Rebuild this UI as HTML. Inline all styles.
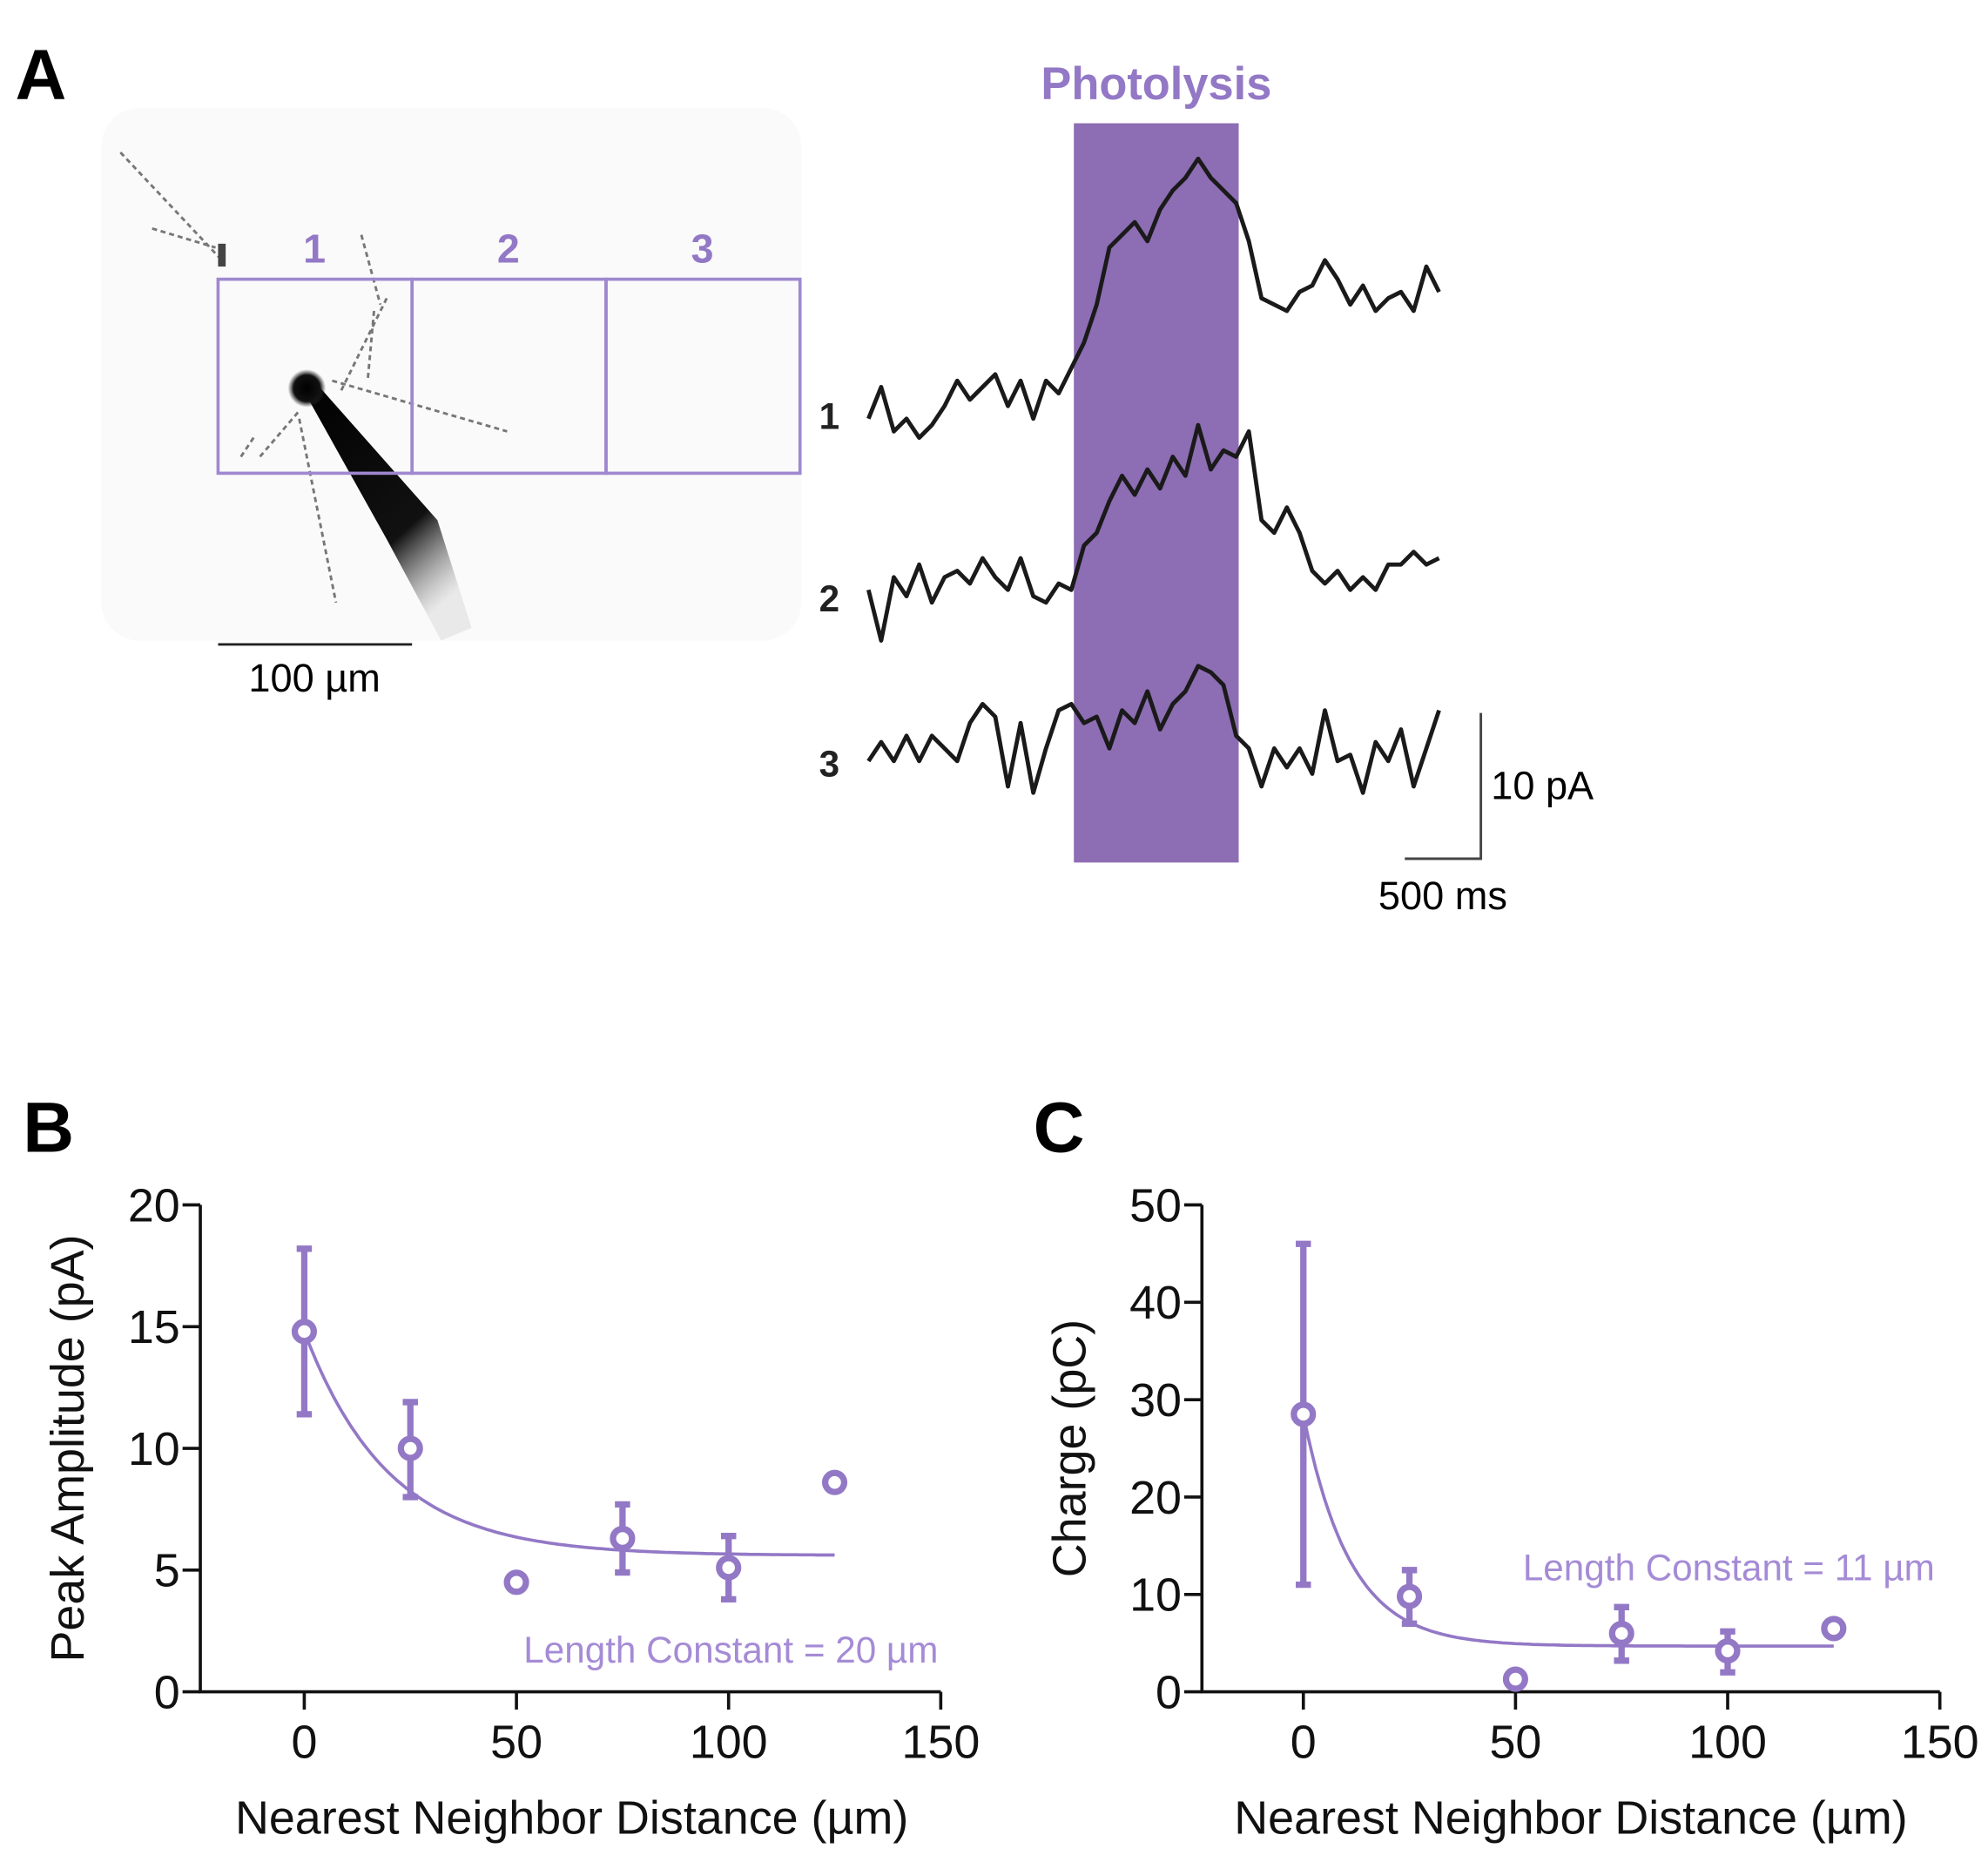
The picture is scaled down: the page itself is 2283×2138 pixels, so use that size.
<!DOCTYPE html>
<html><head><meta charset="utf-8"><style>
html,body{margin:0;padding:0;background:#fff;}
svg{display:block;font-family:"Liberation Sans",Arial,sans-serif;}
</style></head><body>
<svg id="fig" width="2283" height="2138" viewBox="0 0 1568 1468" xmlns="http://www.w3.org/2000/svg">
<defs>
<radialGradient id="soma" cx="0.5" cy="0.5" r="0.5"><stop offset="0" stop-color="#000"/><stop offset="0.7" stop-color="#111"/><stop offset="1" stop-color="#333" stop-opacity="0"/></radialGradient>
<linearGradient id="pip" x1="0" y1="0" x2="0.6" y2="1"><stop offset="0" stop-color="#000"/><stop offset="0.7" stop-color="#111"/><stop offset="1" stop-color="#888" stop-opacity="0.15"/></linearGradient>
</defs>
<rect width="1568" height="1468" fill="#fff"/>
<text x="12" y="78" font-size="56" font-weight="bold">A</text>
<g>
<rect x="80" y="85" width="552" height="420" rx="30" fill="#fafafa"/>
<path d="M95 120 L175 205 M120 180 L170 195 M285 185 L300 240 M305 235 L268 310 M295 245 L290 300 M262 300 L400 340 M235 325 L205 360 M236 330 L265 475 M200 345 L190 360" stroke="#777" stroke-width="2" fill="none" stroke-dasharray="4 3"/>
<rect x="172" y="192" width="6" height="18" fill="#444"/>
<polygon points="234,298 252,305 345,410 372,495 348,505 305,425" fill="url(#pip)"/>
<circle cx="242" cy="306" r="15" fill="url(#soma)"/>
</g>
<g stroke="#9f88d0" stroke-width="2.5" fill="none">
<rect x="172" y="220" width="153" height="153"/>
<rect x="325" y="220" width="153" height="153"/>
<rect x="478" y="220" width="153" height="153"/>
</g>
<g fill="#9378c6" font-size="32" font-weight="bold" text-anchor="middle">
<text x="248" y="207">1</text>
<text x="401" y="207">2</text>
<text x="554" y="207">3</text>
</g>
<line x1="172" y1="508" x2="325" y2="508" stroke="#222" stroke-width="2"/>
<text x="248" y="545" font-size="31" text-anchor="middle">100 µm</text>
<rect x="847" y="97" width="130" height="583" fill="#8d6db3"/>
<text x="912" y="78" font-size="36" font-weight="bold" fill="#9378c6" text-anchor="middle">Photolysis</text>
<g font-size="29" font-weight="bold" fill="#222">
<text x="646" y="338">1</text>
<text x="646" y="482">2</text>
<text x="646" y="612">3</text>
</g>
<g id="traces"></g>
<path d="M1168 562 L1168 677 L1108 677" stroke="#444" stroke-width="2" fill="none"/>
<text x="1176" y="630" font-size="31">10 pA</text>
<text x="1138" y="717" font-size="31" text-anchor="middle">500 ms</text>
<text x="18" y="908" font-size="56" font-weight="bold">B</text>
<text x="815" y="908" font-size="56" font-weight="bold">C</text>
<g id="chartB"></g>
<g id="chartC"></g>
</svg>
<script>
const NS='http://www.w3.org/2000/svg';
const trace1=[330,305,340,330,345,335,320,300,315,305,295,320,300,330,300,310,290,270,240,195,185,175,190,165,150,140,125,140,150,160,190,235,240,245,230,225,205,220,240,225,245,235,230,245,210,230];
const trace2=[465,505,455,470,445,475,455,450,460,440,455,465,440,470,475,460,465,430,420,395,375,390,370,385,360,375,335,370,355,360,340,410,420,400,420,450,460,450,465,455,465,445,445,435,445,440];
const trace3=[600,585,600,580,600,580,590,600,570,555,565,620,570,625,590,560,555,570,565,590,560,570,545,575,555,545,525,530,540,580,590,620,590,605,590,610,560,600,595,625,585,600,575,620,590,560];
const xCats=[0,25,50,75,100,125];
const bMean=[14.8,10.0,4.5,6.3,5.1,8.6];
const bLo=[11.4,8.0,null,4.9,3.8,null];
const bHi=[18.2,11.9,null,7.7,6.4,null];
const bFitPlateau=[5.6], bFitSpan=[9.2], bFitTau=[20];
const bYTicks=[0,5,10,15,20];
const cMean=[28.5,9.8,1.3,6.0,4.2,6.5];
const cLo=[11,7.0,null,3.2,2.0,null];
const cHi=[46,12.5,null,8.7,6.2,null];
const cFitPlateau=[4.7], cFitSpan=[23.8], cFitTau=[11];
const cYTicks=[0,10,20,30,40,50];
const xTicks=[0,50,100,150];

function mk(tag,attrs,parent){const e=document.createElementNS(NS,tag);for(const k in attrs)e.setAttribute(k,attrs[k]);parent.appendChild(e);return e;}

const tg=document.getElementById('traces');
[trace1,trace2,trace3].forEach((t,i)=>{
  const d=t.map((y,j)=>(j?'L':'M')+(685+10*j)+' '+y).join(' ');
  const p=mk('path',{d:d,stroke:'#1a1a1a','stroke-width':3.3,fill:'none','stroke-linejoin':'round'},tg);
  
  
});

function chart(g,o){
  const X=v=>o.x0+(v/150)*(o.x150-o.x0);
  const Y=v=>o.yb+(v/o.ymax)*(o.yt-o.yb);
  const ax=mk('path',{d:`M${o.ax} ${o.yt} L${o.ax} ${o.yb} L${X(150)} ${o.yb}`,stroke:'#111','stroke-width':2.5,fill:'none'},g);
  
  
  o.yTicks.forEach(v=>{
    mk('line',{x1:o.ax-14,x2:o.ax,y1:Y(v),y2:Y(v),stroke:'#111','stroke-width':2.5},g);
    const t=mk('text',{x:o.ax-16,y:Y(v)+13,'font-size':37,'text-anchor':'end',fill:'#111'},g);
    t.textContent=v;
    
    
  });
  xTicks.forEach(v=>{
    mk('line',{x1:X(v),x2:X(v),y1:o.yb,y2:o.yb+14,stroke:'#111','stroke-width':2.5},g);
    const t=mk('text',{x:X(v),y:o.yb+52,'font-size':37,'text-anchor':'middle',fill:'#111'},g);
    t.textContent=v;
    
    
  });
  const xt=mk('text',{x:(o.x0+o.x150)/2-40,y:o.yb+112,'font-size':37,'text-anchor':'middle',fill:'#111'},g);
  xt.textContent='Nearest Neighbor Distance (µm)';
  
  
  const ycx=o.ax-92, ycy=(o.yt+o.yb)/2;
  const yt=mk('text',{x:ycx,y:ycy,'font-size':37,'text-anchor':'middle',fill:'#111',transform:`rotate(-90 ${ycx} ${ycy})`},g);
  yt.textContent=o.ytitle;
  
  
  let d='';
  for(let v=0;v<=125;v+=1){d+=(v?'L':'M')+X(v).toFixed(1)+' '+Y(o.pl+o.sp*Math.exp(-v/o.tau)).toFixed(1)+' ';}
  const f=mk('path',{d:d,stroke:'#9378c6','stroke-width':2.5,fill:'none'},g);
  
  
  xCats.forEach((c,i)=>{
    if(o.lo[i]!=null){
      const e=mk('path',{d:`M${X(c)} ${Y(o.lo[i])} L${X(c)} ${Y(o.hi[i])} M${X(c)-6} ${Y(o.lo[i])} L${X(c)+6} ${Y(o.lo[i])} M${X(c)-6} ${Y(o.hi[i])} L${X(c)+6} ${Y(o.hi[i])}`,stroke:'#9378c6','stroke-width':5,fill:'none'},g);
      
      
    }
    const m=mk('circle',{cx:X(c),cy:Y(o.mean[i]),r:7.5,fill:'#fff',stroke:'#9378c6','stroke-width':5},g);
    
    
  });
  const lc=mk('text',{x:o.lcx,y:o.lcy,'font-size':29,'text-anchor':'end',fill:'#a58bd6'},g);
  lc.textContent=o.lc;
  
  
}
chart(document.getElementById('chartB'),{ax:158,x0:240,x150:742,yt:950,yb:1334,ymax:20,yTicks:bYTicks,ytitle:'Peak Amplitude (pA)',mean:bMean,lo:bLo,hi:bHi,pl:bFitPlateau[0],sp:bFitSpan[0],tau:bFitTau[0],lc:'Length Constant = 20 µm',lcx:740,lcy:1311});
chart(document.getElementById('chartC'),{ax:948,x0:1028,x150:1530,yt:950,yb:1334,ymax:50,yTicks:cYTicks,ytitle:'Charge (pC)',mean:cMean,lo:cLo,hi:cHi,pl:cFitPlateau[0],sp:cFitSpan[0],tau:cFitTau[0],lc:'Length Constant = 11 µm',lcx:1526,lcy:1246});
</script>
</body></html>
